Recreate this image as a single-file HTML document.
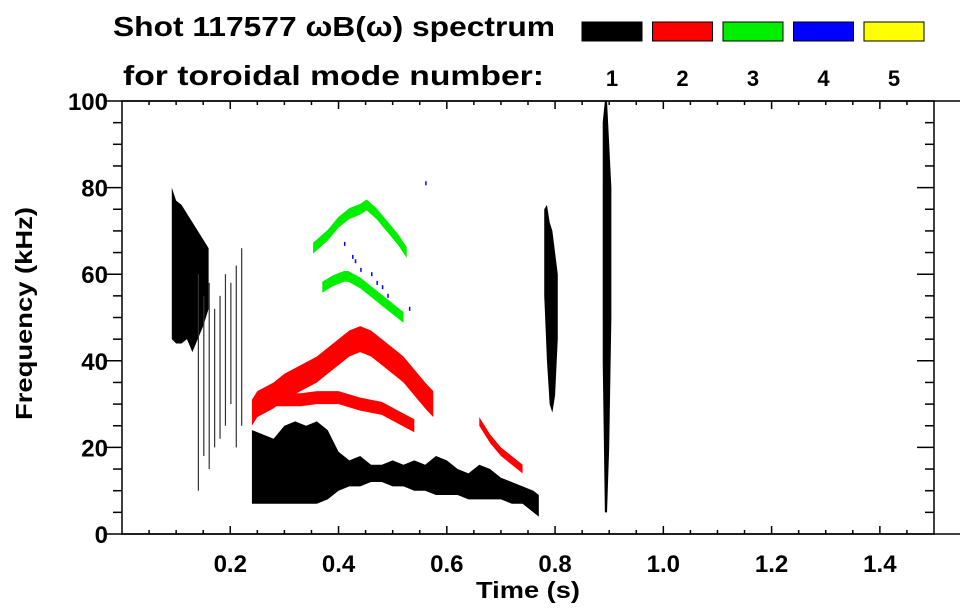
<!DOCTYPE html>
<html><head><meta charset="utf-8"><style>
body{margin:0;background:#fff;}
svg{display:block;font-family:"Liberation Sans",sans-serif;font-weight:bold;}
</style></head><body>
<svg id="chart" width="963" height="615" viewBox="0 0 963 615">
<g>
<text x="113" y="36" font-size="28" textLength="442" lengthAdjust="spacingAndGlyphs">Shot 117577 ωB(ω) spectrum</text>
<text x="123" y="85" font-size="28" textLength="421" lengthAdjust="spacingAndGlyphs">for toroidal mode number:</text>
</g>
<g id="legend"></g>
<g id="marks"></g>
<g id="axes"></g>
<text x="476" y="598" font-size="23" textLength="104" lengthAdjust="spacingAndGlyphs">Time (s)</text>
<text transform="translate(32,420) rotate(-90)" font-size="23" textLength="213" lengthAdjust="spacingAndGlyphs">Frequency (kHz)</text>
</svg>
<script>
const modeLabels=["1","2","3","4","5"];
const modeColors=["#000000","#ff0000","#00ee00","#0000ff","#ffff00"];
const xTicks=[0.2,0.4,0.6,0.8,1.0,1.2,1.4];
const xTickLabels=["0.2","0.4","0.6","0.8","1.0","1.2","1.4"];
const yTicks=[0,20,40,60,80,100];
// mode 1 main low-frequency band
const band1T=[0.24,0.26,0.28,0.30,0.32,0.34,0.36,0.38,0.40,0.42,0.44,0.46,0.48,0.50,0.52,0.54,0.56,0.58,0.60,0.62,0.64,0.66,0.68,0.70,0.72,0.74,0.76,0.77];
const band1Lo=[7,7,7,7,7,7,7,8,10,11,11,12,12,11,11,10,10,9,9,9,8,8,8,8,7,7,5,4];
const band1Hi=[24,23,22,25,26,25,26,24,19,17,18,16,16,17,16,17,16,18,17,15,14,16,15,13,12,11,10,9];
// mode 1 early burst
const early1T=[0.092,0.10,0.11,0.12,0.13,0.14,0.15,0.16];
const early1Lo=[45,44,44,45,42,45,48,52];
const early1Hi=[80,77,76,74,72,70,68,66];
// mode 1 late bursts
const late1T=[0.78,0.785,0.79,0.795,0.80,0.805];
const late1Lo=[55,40,30,28,32,45];
const late1Hi=[75,76,72,70,65,60];
const spike1T=[0.888,0.892,0.896,0.90,0.904];
const spike1Lo=[40,5,5,20,50];
const spike1Hi=[95,100,100,90,80];
// mode 2 upper chirp
const up2T=[0.24,0.25,0.28,0.30,0.33,0.36,0.38,0.40,0.42,0.44,0.46,0.48,0.50,0.52,0.54,0.56,0.575];
const up2F=[28,30,32,34,36,38,40,42,44,45,44,42,40,38,35,32,30];
// mode 2 lower chirp
const lo2T=[0.27,0.30,0.33,0.36,0.40,0.44,0.48,0.51,0.54];
const lo2F=[31,31,31,31.5,31.5,30,29,27,25];
// mode 2 late chirp
const late2T=[0.66,0.68,0.70,0.72,0.74];
const late2F=[26,22,19,17,15];
// mode 3 chirps
const g3aT=[0.353,0.38,0.40,0.42,0.44,0.452,0.47,0.49,0.51,0.526];
const g3aF=[66,69,72,74,75,76,74,71,68,65];
const g3bT=[0.37,0.39,0.41,0.418,0.44,0.46,0.48,0.50,0.52];
const g3bF=[57,58.5,59.5,59.5,58,56,54,52,50];
// mode 4 scattered points
const blueT=[0.41,0.425,0.43,0.44,0.46,0.47,0.48,0.49,0.53,0.56];
const blueF=[67,64,63,61,60,58,57,55,52,81];

const X0=122,X1=934,Y0=534,Y1=101;
const xs=t=>X0+t/1.5*(X1-X0);
const ys=f=>Y0-f/100*(Y0-Y1);
const NS="http://www.w3.org/2000/svg";
const marks=document.getElementById('marks');
const axes=document.getElementById('axes');
const legend=document.getElementById('legend');
function mk(tag,attrs,parent){const e=document.createElementNS(NS,tag);for(const k in attrs)e.setAttribute(k,attrs[k]);parent.appendChild(e);return e;}

function bandPoly(T,L,H,color,name){
  let pts=[];
  for(let i=0;i<T.length;i++)pts.push(xs(T[i])+","+ys(H[i]));
  for(let i=T.length-1;i>=0;i--)pts.push(xs(T[i])+","+ys(L[i]));
  const p=mk('polygon',{points:pts.join(' '),fill:color},marks);
  
  
}
function chirp(T,F,w,color,name){
  const L=F.map(f=>f-w/2),H=F.map(f=>f+w/2);
  bandPoly(T,L,H,color,name);
}
bandPoly(band1T,band1Lo,band1Hi,"#000","mode1-main-band");
bandPoly(early1T,early1Lo,early1Hi,"#000","mode1-early-burst");
bandPoly(late1T,late1Lo,late1Hi,"#000","mode1-late-burst");
bandPoly(spike1T,spike1Lo,spike1Hi,"#000","mode1-late-spike");
// early streaks
const streakT=[0.14,0.15,0.16,0.17,0.18,0.19,0.20,0.21,0.22];
const streakLo=[10,18,15,20,22,25,30,20,25];
const streakHi=[60,55,58,52,55,60,58,62,66];
for(let i=0;i<streakT.length;i++){
  const r=mk('rect',{x:xs(streakT[i]),y:ys(streakHi[i]),width:1.2,height:ys(streakLo[i])-ys(streakHi[i]),fill:"#333"},marks);
  
  
}
chirp(up2T,up2F,6,"#ff0000","mode2-upper-chirp");
chirp(lo2T,lo2F,3,"#ff0000","mode2-lower-chirp");
chirp(late2T,late2F,2,"#ff0000","mode2-late-chirp");
chirp(g3aT,g3aF,2.5,"#00ee00","mode3-upper-chirp");
chirp(g3bT,g3bF,2.5,"#00ee00","mode3-lower-chirp");
for(let i=0;i<blueT.length;i++){
  const r=mk('rect',{x:xs(blueT[i]),y:ys(blueF[i])-2,width:1.5,height:4,fill:"#0000ff"},marks);
  
  
}

// axes
const frame=mk('rect',{x:X0,y:Y1,width:X1-X0,height:Y0-Y1,fill:"none",stroke:"#000","stroke-width":1.5},axes);


mk('line',{x1:105,y1:Y0,x2:960,y2:Y0,stroke:"#000","stroke-width":1.5},axes);
mk('line',{x1:105,y1:Y1,x2:960,y2:Y1,stroke:"#000","stroke-width":1.5},axes);
for(let t=0.05;t<1.5;t+=0.05){
  const major=Math.abs(t/0.2-Math.round(t/0.2))<1e-6;
  const len=major?8:4;
  mk('line',{x1:xs(t),y1:Y0,x2:xs(t),y2:Y0-len,stroke:"#000","stroke-width":1.5},axes);
  mk('line',{x1:xs(t),y1:Y1,x2:xs(t),y2:Y1+len,stroke:"#000","stroke-width":1.5},axes);
}
for(let f=5;f<100;f+=5){
  const major=f%20===0;
  mk('line',{x1:X0,y1:ys(f),x2:X0-(major?17:9),y2:ys(f),stroke:"#000","stroke-width":1.5},axes);
  mk('line',{x1:X1,y1:ys(f),x2:X1-(major?17:9),y2:ys(f),stroke:"#000","stroke-width":1.5},axes);
}
for(let i=0;i<xTicks.length;i++){
  const tx=mk('text',{x:xs(xTicks[i]),y:572,"font-size":24,"text-anchor":"middle"},axes);
  tx.textContent=xTickLabels[i];
  
  
}
for(let i=0;i<yTicks.length;i++){
  const tx=mk('text',{x:108,y:ys(yTicks[i])+9,"font-size":24,"text-anchor":"end"},axes);
  tx.textContent=String(yTicks[i]);
  
  
}
// legend
for(let i=0;i<modeLabels.length;i++){
  const lx=582+i*70.5;
  const r=mk('rect',{x:lx,y:22,width:60,height:19,fill:modeColors[i],stroke:"#000","stroke-width":1},legend);
  
  
  const tx=mk('text',{x:lx+30,y:86,"font-size":22,"text-anchor":"middle"},legend);
  tx.textContent=modeLabels[i];
  
  
}
</script>
</body></html>
